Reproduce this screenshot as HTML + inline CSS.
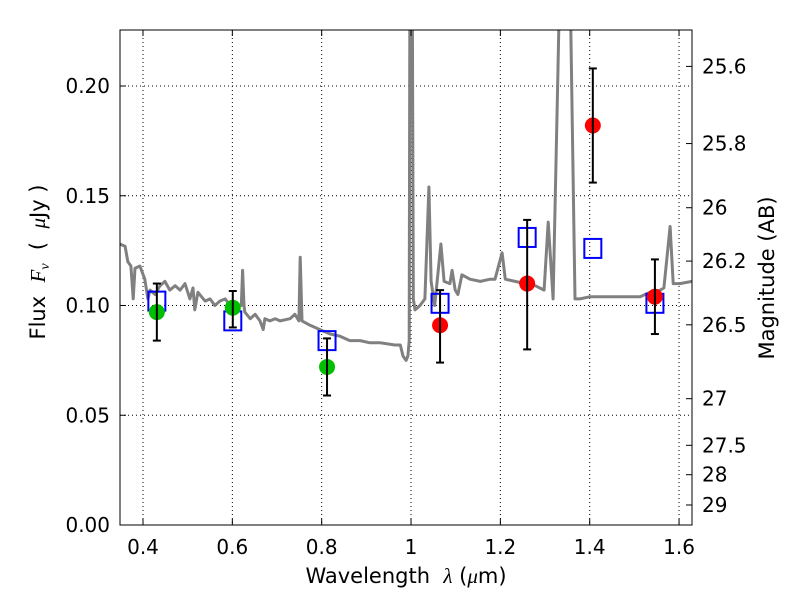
<!DOCTYPE html>
<html><head><meta charset="utf-8"><style>
body{margin:0;background:#fff;font-family:"DejaVu Sans","Liberation Sans",sans-serif}
svg text{font-family:"DejaVu Sans","Liberation Sans",sans-serif}
</style></head><body>
<svg id="chart" width="800" height="600" viewBox="0 0 800 600" xmlns="http://www.w3.org/2000/svg">
<defs><clipPath id="clip"><rect x="120" y="30" width="572" height="495"/></clipPath></defs>
<rect x="0" y="0" width="800" height="600" fill="#fff"/>
<g id="grid"></g>
<g id="spec" clip-path="url(#clip)"></g>
<g id="marks"></g>
<rect x="120" y="30" width="572" height="495" fill="none" stroke="#000" stroke-width="1"/>
<g id="axes"></g>
<text x="406" y="583" font-size="21" text-anchor="middle">Wavelength&#160;&#160;<tspan font-style="italic" font-family="Liberation Serif">λ</tspan> (<tspan font-style="italic" font-family="Liberation Serif">μ</tspan>m)</text>
<text transform="translate(45,262) rotate(-90)" font-size="21" text-anchor="middle">Flux&#160;&#160;<tspan font-style="italic" font-family="Liberation Serif">F</tspan><tspan font-style="italic" font-family="Liberation Serif" font-size="14" dy="4">ν</tspan><tspan dy="-4">&#160;&#160;(&#160;&#160;</tspan><tspan font-style="italic" font-family="Liberation Serif">μ</tspan>Jy )</text>
<text transform="translate(774,278) rotate(-90)" font-size="21" text-anchor="middle">Magnitude (AB)</text>
</svg>
<script>
const specLam=[0.348,0.360,0.366,0.373,0.378,0.382,0.393,0.404,0.411,0.416,0.427,0.438,0.449,0.460,0.472,0.483,0.494,0.505,0.512,0.516,0.523,0.539,0.550,0.561,0.572,0.584,0.595,0.606,0.617,0.620,0.623,0.626,0.628,0.640,0.651,0.662,0.669,0.673,0.684,0.696,0.707,0.729,0.740,0.749,0.752,0.756,0.774,0.796,0.819,0.841,0.863,0.886,0.908,0.931,0.964,0.976,0.982,0.989,0.993,0.996,0.998,1.002,1.005,1.009,1.020,1.031,1.040,1.045,1.053,1.067,1.074,1.087,1.092,1.099,1.105,1.114,1.132,1.155,1.177,1.188,1.204,1.211,1.233,1.255,1.278,1.298,1.307,1.318,1.329,1.338,1.352,1.367,1.378,1.401,1.423,1.468,1.513,1.535,1.558,1.566,1.580,1.587,1.602,1.629];
const specFlux=[0.128,0.127,0.120,0.118,0.103,0.117,0.118,0.112,0.103,0.107,0.105,0.109,0.111,0.107,0.109,0.107,0.110,0.103,0.108,0.098,0.106,0.102,0.103,0.100,0.102,0.103,0.100,0.099,0.100,0.100,0.116,0.100,0.097,0.094,0.096,0.093,0.089,0.094,0.093,0.094,0.093,0.094,0.096,0.093,0.122,0.093,0.091,0.089,0.087,0.086,0.084,0.084,0.083,0.083,0.082,0.082,0.077,0.075,0.077,0.084,0.30,0.30,0.103,0.098,0.100,0.103,0.154,0.111,0.100,0.128,0.111,0.110,0.116,0.107,0.105,0.114,0.112,0.111,0.112,0.112,0.124,0.112,0.111,0.110,0.109,0.107,0.138,0.103,0.208,0.30,0.30,0.103,0.103,0.104,0.104,0.104,0.104,0.106,0.107,0.108,0.136,0.110,0.110,0.111];
const modelLam=[0.431,0.601,0.812,1.065,1.260,1.407,1.546];
const modelFlux=[0.102,0.093,0.084,0.101,0.131,0.126,0.101];
const greenLam=[0.431,0.601,0.812];
const greenFlux=[0.097,0.099,0.072];
const greenHi=[0.110,0.1066,0.085];
const greenLo=[0.084,0.090,0.059];
const redLam=[1.065,1.260,1.407,1.546];
const redFlux=[0.091,0.110,0.182,0.104];
const redHi=[0.107,0.139,0.208,0.121];
const redLo=[0.074,0.080,0.156,0.087];
const xTicks=[0.4,0.6,0.8,1.0,1.2,1.4,1.6];
const xTickLabels=["0.4","0.6","0.8","1","1.2","1.4","1.6"];
const yTicks=[0,0.05,0.10,0.15,0.20];
const yTickLabels=["0.00","0.05","0.10","0.15","0.20"];
const magTicks=[25.6,25.8,26,26.2,26.5,27,27.5,28,29];
const magTickLabels=["25.6","25.8","26","26.2","26.5","27","27.5","28","29"];

const X=v=>143+(v-0.4)*446.7;
const Y=v=>525-v*2195;
const NS="http://www.w3.org/2000/svg";
function mk(tag,attrs,parent){const e=document.createElementNS(NS,tag);for(const k in attrs)e.setAttribute(k,attrs[k]);parent.appendChild(e);return e;}
const grid=document.getElementById('grid'),axes=document.getElementById('axes'),spec=document.getElementById('spec'),marks=document.getElementById('marks');
xTicks.forEach((t,i)=>{
  const x=X(t);
  let g=mk('line',{x1:x,x2:x,y1:30,y2:525,stroke:'#000','stroke-width':1,'stroke-dasharray':'1,3'},grid);
  
  
  mk('line',{x1:x,x2:x,y1:525,y2:519,stroke:'#000'},axes);
  mk('line',{x1:x,x2:x,y1:30,y2:36,stroke:'#000'},axes);
  let tx=mk('text',{x:x,y:554,'font-size':20,'text-anchor':'middle'},axes);
  tx.textContent=xTickLabels[i];
  
  
});
yTicks.forEach((t,i)=>{
  const y=Y(t);
  let g=mk('line',{x1:120,x2:692,y1:y,y2:y,stroke:'#000','stroke-width':1,'stroke-dasharray':'1,3'},grid);
  
  
  mk('line',{x1:120,x2:126,y1:y,y2:y,stroke:'#000'},axes);
  let tx=mk('text',{x:110,y:y+7,'font-size':20,'text-anchor':'end'},axes);
  tx.textContent=yTickLabels[i];
  
  
});
magTicks.forEach((m,i)=>{
  const y=Y(Math.pow(10,(23.9-m)/2.5));
  mk('line',{x1:686,x2:692,y1:y,y2:y,stroke:'#000'},axes);
  let tx=mk('text',{x:702,y:y+7,'font-size':20,'text-anchor':'start'},axes);
  tx.textContent=magTickLabels[i];
  
  
});
let d=specLam.map((l,i)=>(i?'L':'M')+X(l).toFixed(1)+','+Y(specFlux[i]).toFixed(1)).join('');
let sp=mk('path',{d:d,fill:'none',stroke:'#808080','stroke-width':3,'stroke-linejoin':'round'},spec);


function errbar(l,lo,hi){
  const x=X(l),y1=Y(hi),y2=Y(lo);
  let g=mk('g',{},marks);
  
  
  mk('line',{x1:x,x2:x,y1:y1,y2:y2,stroke:'#000','stroke-width':2},g);
  mk('line',{x1:x-4,x2:x+4,y1:y1,y2:y1,stroke:'#000','stroke-width':2},g);
  mk('line',{x1:x-4,x2:x+4,y1:y2,y2:y2,stroke:'#000','stroke-width':2},g);
}
modelLam.forEach((l,i)=>{
  let r=mk('rect',{x:X(l)-8.5,y:Y(modelFlux[i])-9.5,width:17,height:19,fill:'none',stroke:'#0000ff','stroke-width':2},marks);
  
  
});
greenLam.forEach((l,i)=>{
  let c=mk('circle',{cx:X(l),cy:Y(greenFlux[i]),r:8,fill:'#00bf00'},marks);
  
  
  errbar(l,greenLo[i],greenHi[i]);
});
redLam.forEach((l,i)=>{
  let c=mk('circle',{cx:X(l),cy:Y(redFlux[i]),r:8,fill:'#ff0000'},marks);
  
  
  errbar(l,redLo[i],redHi[i]);
});
</script>
</body></html>
